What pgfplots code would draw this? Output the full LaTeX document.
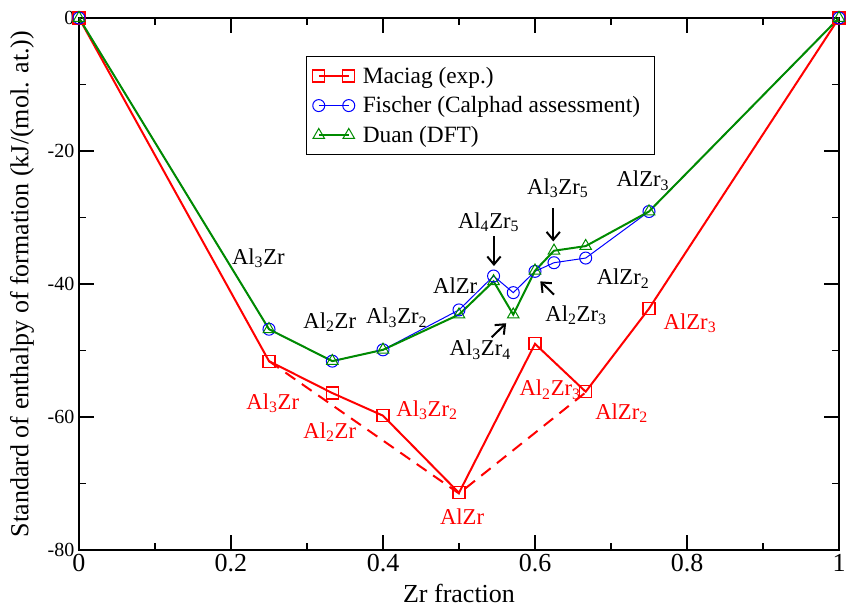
\documentclass[border=0pt]{standalone}
\usepackage{pgfplots}
\pgfplotsset{compat=1.18}
\usepackage{fontspec}
\setmainfont{Liberation Serif}
\usetikzlibrary{arrows.meta}

\definecolor{maciagred}{RGB}{255,0,0}
\definecolor{fischerblue}{RGB}{0,0,255}
\definecolor{duangreen}{RGB}{0,139,0}

\begin{document}
\begin{tikzpicture}

\begin{axis}[
scale only axis,
width=570pt, height=399pt,
xmin=0, xmax=1,
ymin=-80, ymax=0,
xtick={0,0.2,0.4,0.6,0.8,1},
minor xtick={0.1,0.3,0.5,0.7,0.9},
ytick={-80,-60,-40,-20,0},
minor ytick={-70,-50,-30,-10},
tick align=inside,
major tick length=11pt,
minor tick length=5.6pt,
every tick/.style={black, line width=0.9pt},
axis line style={line width=1.1pt},
/pgf/number format/assume math mode=true,
xticklabel style={font=\fontsize{19.5}{20}\selectfont},
yticklabel style={font=\fontsize{15}{16}\selectfont},
xlabel={Zr fraction},
ylabel={Standard of enthalpy of formation (kJ/(mol. at.))},
label style={font=\fontsize{19.5}{21}\selectfont},
xlabel style={at={(axis description cs:0.5,0)}, anchor=center, yshift=-32.25pt},
ylabel style={at={(axis description cs:-0.075,0.5)}, anchor=center},
legend style={
  at={(0.299,0.929)}, anchor=north west,
  draw=black, line width=0.8pt,
  font=\fontsize{17.5}{21}\selectfont,
  inner xsep=4.5pt, inner ysep=6pt,
  row sep=4.5pt,
  nodes={inner xsep=6pt}
},
legend cell align={left},
legend image code/.code={\draw[#1] plot coordinates {(0pt,0pt) (22.5pt,0pt)};},
]

% convex hull of the measured values
\addplot [maciagred, line width=1.5pt, dash pattern=on 9pt off 6pt, forget plot]
coordinates {(0.25,-51.6) (0.5,-71.5) (0.6667,-56.3)};

\addplot [maciagred, line width=1.5pt, mark=square, mark size=4.5pt, mark options={solid, draw=maciagred, fill=none, line width=0.9pt}]
table {%
0 0
0.25 -51.6
0.3333 -56.4
0.4 -59.8
0.5 -71.4
0.6 -49.0
0.6667 -56.2
0.75 -43.7
1 0
};
\addlegendentry{Maciag (exp.)}

\addplot [fischerblue, line width=0.75pt, mark=o, mark size=4.5pt, mark options={solid, draw=fischerblue, fill=none, line width=0.75pt}]
table {%
0 0
0.25 -46.8
0.3333 -51.6
0.4 -49.9
0.5 -43.9
0.5455 -38.8
0.5714 -41.3
0.6 -38.1
0.625 -36.8
0.6667 -36.1
0.75 -29.1
1 0
};
\addlegendentry{Fischer (Calphad assessment)}

\addplot [duangreen, line width=1.5pt, mark=triangle, mark size=5pt, mark options={solid, draw=duangreen, fill=none, line width=0.75pt}]
table {%
0 0
0.25 -46.8
0.3333 -51.6
0.4 -49.9
0.5 -44.6
0.5455 -39.6
0.5714 -44.6
0.6 -38.0
0.625 -35.0
0.6667 -34.3
0.75 -29.1
1 0
};
\addlegendentry{Duan (DFT)}

% phase labels, Calphad / DFT
\begin{scope}[every node/.style={font=\fontsize{17}{18}\selectfont, inner sep=0pt, anchor=center}]
\node at (axis cs:0.236,-36.1) {Al\textsubscript{3}Zr};
\node at (axis cs:0.33,-45.7) {Al\textsubscript{2}Zr};
\node at (axis cs:0.418,-45.1) {Al\textsubscript{3}Zr\textsubscript{2}};
\node at (axis cs:0.495,-40.2) {AlZr};
\node at (axis cs:0.539,-30.7) {Al\textsubscript{4}Zr\textsubscript{5}};
\node at (axis cs:0.63,-25.6) {Al\textsubscript{3}Zr\textsubscript{5}};
\node at (axis cs:0.742,-24.5) {AlZr\textsubscript{3}};
\node at (axis cs:0.716,-39.2) {AlZr\textsubscript{2}};
\node at (axis cs:0.654,-44.7) {Al\textsubscript{2}Zr\textsubscript{3}};
\node at (axis cs:0.528,-49.9) {Al\textsubscript{3}Zr\textsubscript{4}};
% phase labels, experiment
\node[text=maciagred] at (axis cs:0.255,-57.9) {Al\textsubscript{3}Zr};
\node[text=maciagred] at (axis cs:0.33,-62.3) {Al\textsubscript{2}Zr};
\node[text=maciagred] at (axis cs:0.458,-59.0) {Al\textsubscript{3}Zr\textsubscript{2}};
\node[text=maciagred] at (axis cs:0.504,-75.0) {AlZr};
\node[text=maciagred] at (axis cs:0.62,-55.9) {Al\textsubscript{2}Zr\textsubscript{3}};
\node[text=maciagred] at (axis cs:0.714,-59.4) {AlZr\textsubscript{2}};
\node[text=maciagred] at (axis cs:0.804,-45.9) {AlZr\textsubscript{3}};
\end{scope}

\begin{scope}[line width=1.5pt, -{Straight Barb[length=6pt, width=10pt]}]
\draw (axis cs:0.546,-32.8) -- (axis cs:0.546,-37.3);
\draw (axis cs:0.624,-28.6) -- (axis cs:0.624,-33.6);
\draw (axis cs:0.625,-41.6) -- (axis cs:0.607,-39.6);
\draw (axis cs:0.543,-48.0) -- (axis cs:0.562,-45.9);
\end{scope}

\end{axis}

\pgfresetboundingbox
\path ([shift={(-59.25pt,-47.25pt)}]current axis.south west)
  rectangle ([shift={(6pt,13.5pt)}]current axis.north east);

\end{tikzpicture}
\end{document}
